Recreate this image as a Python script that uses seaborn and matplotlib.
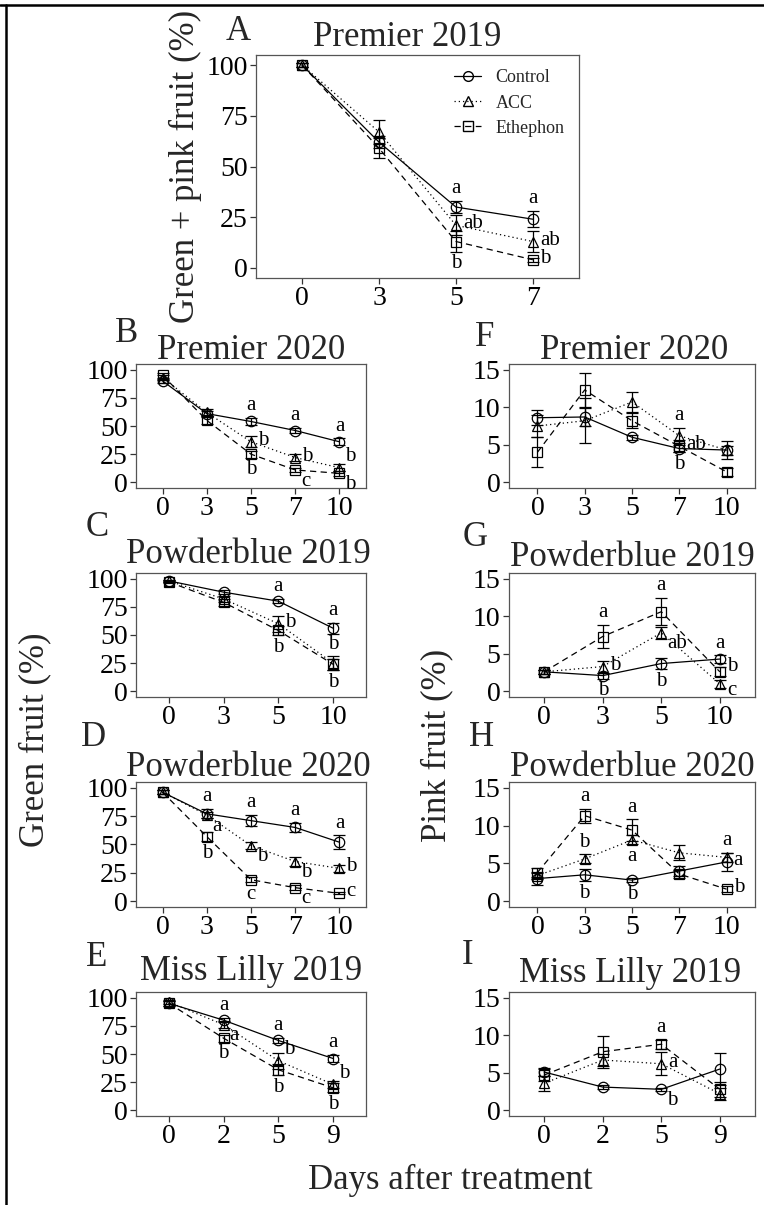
import matplotlib
matplotlib.use("Agg")
import matplotlib.pyplot as plt
from matplotlib.lines import Line2D
import numpy as np
import pandas as pd
import seaborn as sns

sns.set_theme(style="white")
plt.rcParams["font.family"] = ["Liberation Serif", "DejaVu Serif"]

TREATMENTS = ["Control", "ACC", "Ethephon"]

# ---------------- data: means, standard errors and mean-separation letters
# A  Premier 2019 (green + pink fruit, %)
a_days = ["0", "3", "5", "7"]
a_control = [100, 62, 30, 24]
a_control_se = [1, 3, 3, 4]
a_acc = [100, 67, 21, 13]
a_acc_se = [1, 6, 5, 5]
a_eth = [100, 59, 13, 4]
a_eth_se = [1, 5, 5, 1]
a_control_let = ["", "", "a", "a"]
a_acc_let = ["", "", "ab", "ab"]
a_eth_let = ["", "", "b", "b"]

# B  Premier 2020 (green fruit, %)
b_days = ["0", "3", "5", "7", "10"]
b_control = [90, 61, 54, 46, 36]
b_control_se = [2, 2, 3, 2, 3]
b_acc = [93, 62, 36, 22, 13]
b_acc_se = [2, 3, 5, 3, 3]
b_eth = [95, 55, 25, 11, 8]
b_eth_se = [2, 3, 3, 2, 2]
b_control_let = ["", "", "a", "a", "a"]
b_acc_let = ["", "", "b", "b", "b"]
b_eth_let = ["", "", "b", "c", "b"]

# C  Powderblue 2019 (green fruit, %)
c_days = ["0", "3", "5", "10"]
c_control = [98, 88, 80, 56]
c_control_se = [1, 2, 2, 5]
c_acc = [98, 82, 60, 25]
c_acc_se = [1, 3, 7, 6]
c_eth = [97, 79, 54, 24]
c_eth_se = [1, 3, 4, 5]
c_control_let = ["", "", "a", "a"]
c_acc_let = ["", "", "b", "b"]
c_eth_let = ["", "", "b", "b"]

# D  Powderblue 2020 (green fruit, %)
d_days = ["0", "3", "5", "7", "10"]
d_control = [96, 77, 71, 65, 52]
d_control_se = [2, 4, 5, 4, 6]
d_acc = [96, 76, 49, 35, 29]
d_acc_se = [2, 3, 3, 4, 3]
d_eth = [96, 57, 19, 12, 7]
d_eth_se = [2, 4, 2, 2, 1]
d_control_let = ["", "a", "a", "a", "a"]
d_acc_let = ["", "a", "b", "b", "b"]
d_eth_let = ["", "b", "c", "c", "c"]

# E  Miss Lilly 2019 (green fruit, %)
e_days = ["0", "2", "5", "9"]
e_control = [95, 80, 62, 46]
e_control_se = [2, 2, 2, 3]
e_acc = [96, 76, 44, 23]
e_acc_se = [2, 3, 7, 3]
e_eth = [95, 64, 36, 20]
e_eth_se = [2, 3, 5, 4]
e_control_let = ["", "a", "a", "a"]
e_acc_let = ["", "a", "b", "b"]
e_eth_let = ["", "b", "b", "b"]

# F  Premier 2020 (pink fruit, %)
f_days = ["0", "3", "5", "7", "10"]
f_control = [8.6, 8.7, 6.0, 4.5, 4.3]
f_control_se = [1.0, 1.2, 0.3, 0.5, 0.6]
f_acc = [7.5, 8.2, 10.7, 6.2, 4.3]
f_acc_se = [1.5, 3.0, 1.3, 1.0, 1.2]
f_eth = [4.0, 12.3, 8.2, 4.8, 1.4]
f_eth_se = [2.0, 2.3, 1.0, 0.8, 0.5]
f_control_let = ["", "", "", "b", ""]
f_acc_let = ["", "", "", "a", ""]
f_eth_let = ["", "", "", "ab", ""]

# G  Powderblue 2019 (pink fruit, %)
g_days = ["0", "3", "5", "10"]
g_control = [2.6, 2.1, 3.7, 4.3]
g_control_se = [0.3, 0.4, 0.7, 0.5]
g_acc = [2.6, 3.3, 7.8, 1.0]
g_acc_se = [0.3, 0.8, 0.8, 0.5]
g_eth = [2.6, 7.3, 10.6, 2.6]
g_eth_se = [0.3, 1.5, 1.8, 0.6]
g_control_let = ["", "b", "b", "a"]
g_acc_let = ["", "b", "ab", "c"]
g_eth_let = ["", "a", "a", "b"]

# H  Powderblue 2020 (pink fruit, %)
h_days = ["0", "3", "5", "7", "10"]
h_control = [3.0, 3.5, 2.8, 4.0, 5.2]
h_control_se = [0.8, 0.8, 0.3, 0.6, 1.2]
h_acc = [3.4, 5.6, 8.1, 6.4, 5.8]
h_acc_se = [0.5, 0.6, 0.6, 1.0, 0.6]
h_eth = [3.8, 11.3, 9.4, 3.6, 1.6]
h_eth_se = [0.6, 0.9, 1.4, 0.5, 0.4]
h_control_let = ["", "b", "b", "", "a"]
h_acc_let = ["", "b", "a", "", "a"]
h_eth_let = ["", "a", "a", "", "b"]

# I  Miss Lilly 2019 (pink fruit, %)
i_days = ["0", "2", "5", "9"]
i_control = [5.1, 3.1, 2.8, 5.5]
i_control_se = [0.5, 0.3, 0.2, 2.1]
i_acc = [3.6, 6.7, 6.2, 2.2]
i_acc_se = [1.0, 0.8, 1.5, 0.8]
i_eth = [4.7, 7.8, 8.8, 2.8]
i_eth_se = [0.8, 2.1, 0.6, 1.0]
i_control_let = ["", "", "b", ""]
i_acc_let = ["", "", "a", ""]
i_eth_let = ["", "", "a", ""]

# ---------------- where each letter sits relative to its mean / error bar
_ = None
PLACE = {
    "A": {"Control": [_, _, "above", "above"], "ACC": [_, _, "right", "right"],
          "Ethephon": [_, _, "below", "right"]},
    "B": {"Control": [_, _, "above", "above", "above"], "ACC": [_, _, "right", "right", "upright"],
          "Ethephon": [_, _, "below", "lowright", "lowright"]},
    "C": {"Control": [_, _, "above", "above"], "ACC": [_, _, "right", "above"],
          "Ethephon": [_, _, "below", "below"]},
    "D": {"Control": [_, "above", "above", "above", "above"],
          "ACC": [_, "lowright", "lowright", "lowright", "right"],
          "Ethephon": [_, "below", "below", "lowright", "right"]},
    "E": {"Control": [_, "above", "above", "above"], "ACC": [_, "lowright", "upright", "upright"],
          "Ethephon": [_, "below", "below", "below"]},
    "F": {"Control": [_, _, _, "below", _], "ACC": [_, _, _, "above", _],
          "Ethephon": [_, _, _, "right", _]},
    "G": {"Control": [_, "below", "below", "above"], "ACC": [_, "right", "lowright", "rightlo"],
          "Ethephon": [_, "above", "above", "righthi"]},
    "H": {"Control": [_, "below", "below", _, "right"], "ACC": [_, "above", "below", _, "above"],
          "Ethephon": [_, "above", "above", _, "right"]},
    "I": {"Control": [_, _, "lowright", _], "ACC": [_, _, "right", _],
          "Ethephon": [_, _, "above", _]},
}

# (anchor: mean / top of bar / bottom of bar, offset in points, ha, va)
OFFSETS = {
    "above": ("top", (0, 2), "center", "bottom"),
    "below": ("bottom", (0, -2), "center", "top"),
    "right": ("mean", (5, 1), "left", "center"),
    "righthi": ("mean", (5, 4), "left", "center"),
    "rightlo": ("mean", (5, -5), "left", "center"),
    "lowright": ("mean", (4, -8), "left", "center"),
    "upright": ("mean", (4, 8), "left", "center"),
}

MARKERS = {"Control": "o", "ACC": "^", "Ethephon": "s"}
DASHES = {"Control": "", "ACC": (1, 2.4), "Ethephon": (5, 3.5)}

W, H = 764, 1205


def rect(l, r, t, b):
    return [l / W, 1 - b / H, (r - l) / W, (b - t) / H]


fig = plt.figure(figsize=(W / 100, H / 100), dpi=100)
fig.patch.set_facecolor("white")

TICK_FS = 20
TITLE_FS = 25
LET_FS = 15


def draw_panel(ax, key, days, series, yticks, ylim):
    pos = np.arange(len(days))
    frames = []
    for t in TREATMENTS:
        mean, se, lets = series[t]
        frames.append(pd.DataFrame({"pos": pos, "value": mean, "Treatment": t}))
        ax.errorbar(pos, mean, yerr=se, fmt="none", ecolor="black",
                    elinewidth=0.9, capsize=4.6, capthick=0.9, zorder=2)
    df = pd.concat(frames, ignore_index=True)
    sns.lineplot(data=df, x="pos", y="value", style="Treatment",
                 style_order=TREATMENTS, markers=MARKERS, dashes=DASHES,
                 color="black", linewidth=0.9, markersize=7.5,
                 markerfacecolor="none", markeredgecolor="black",
                 markeredgewidth=0.9, legend=False, sort=False, ax=ax, zorder=3)

    for t in TREATMENTS:
        mean, se, lets = series[t]
        for i, lab in enumerate(lets):
            if not lab:
                continue
            anchor, off, ha, va = OFFSETS[PLACE[key][t][i]]
            m, s = mean[i], se[i]
            y = {"top": m + s, "bottom": m - s, "mean": m}[anchor]
            ax.annotate(lab, (i, y), xytext=off, textcoords="offset points",
                        ha=ha, va=va, fontsize=LET_FS, color="black", zorder=4)

    ax.set_xlim(-0.6, len(days) - 1 + 0.6)
    ax.set_ylim(*ylim)
    ax.set_xticks(pos)
    ax.set_xticklabels(days)
    ax.set_yticks(yticks)
    ax.set_yticklabels([str(v) for v in yticks])
    ax.set_xlabel("")
    ax.set_ylabel("")
    ax.tick_params(axis="both", which="both", length=4, width=0.9,
                   color="#333333", labelsize=TICK_FS, labelcolor="black", pad=2,
                   bottom=True, left=True)
    for sp in ax.spines.values():
        sp.set_visible(True)
        sp.set_color("#555555")
        sp.set_linewidth(0.9)
    ax.grid(False)
    ax.set_facecolor("white")


GREEN_TICKS = [0, 25, 50, 75, 100]
PINK_TICKS = [0, 5, 10, 15]
GREEN_LIM = (-5, 105)
PINK_LIM = (-0.75, 15.75)

LEFT, RIGHT = (136, 366), (509, 755)
ROWS = [(364, 488), (573, 697), (782, 907), (992, 1116)]

panels = [
    ("A", "Premier 2019", a_days,
     {"Control": (a_control, a_control_se, a_control_let),
      "ACC": (a_acc, a_acc_se, a_acc_let),
      "Ethephon": (a_eth, a_eth_se, a_eth_let)},
     GREEN_TICKS, GREEN_LIM, (256, 579, 55, 278), (407, 38), (238, 32)),
    ("B", "Premier 2020", b_days,
     {"Control": (b_control, b_control_se, b_control_let),
      "ACC": (b_acc, b_acc_se, b_acc_let),
      "Ethephon": (b_eth, b_eth_se, b_eth_let)},
     GREEN_TICKS, GREEN_LIM, (*LEFT, *ROWS[0]), (251, 350), (127, 333)),
    ("C", "Powderblue 2019", c_days,
     {"Control": (c_control, c_control_se, c_control_let),
      "ACC": (c_acc, c_acc_se, c_acc_let),
      "Ethephon": (c_eth, c_eth_se, c_eth_let)},
     GREEN_TICKS, GREEN_LIM, (*LEFT, *ROWS[1]), (248, 555), (97, 527)),
    ("D", "Powderblue 2020", d_days,
     {"Control": (d_control, d_control_se, d_control_let),
      "ACC": (d_acc, d_acc_se, d_acc_let),
      "Ethephon": (d_eth, d_eth_se, d_eth_let)},
     GREEN_TICKS, GREEN_LIM, (*LEFT, *ROWS[2]), (248, 767), (94, 737)),
    ("E", "Miss Lilly 2019", e_days,
     {"Control": (e_control, e_control_se, e_control_let),
      "ACC": (e_acc, e_acc_se, e_acc_let),
      "Ethephon": (e_eth, e_eth_se, e_eth_let)},
     GREEN_TICKS, GREEN_LIM, (*LEFT, *ROWS[3]), (251, 972), (97, 957)),
    ("F", "Premier 2020", f_days,
     {"Control": (f_control, f_control_se, f_control_let),
      "ACC": (f_acc, f_acc_se, f_acc_let),
      "Ethephon": (f_eth, f_eth_se, f_eth_let)},
     PINK_TICKS, PINK_LIM, (*RIGHT, *ROWS[0]), (634, 350), (485, 338)),
    ("G", "Powderblue 2019", g_days,
     {"Control": (g_control, g_control_se, g_control_let),
      "ACC": (g_acc, g_acc_se, g_acc_let),
      "Ethephon": (g_eth, g_eth_se, g_eth_let)},
     PINK_TICKS, PINK_LIM, (*RIGHT, *ROWS[1]), (632, 557), (475, 538)),
    ("H", "Powderblue 2020", h_days,
     {"Control": (h_control, h_control_se, h_control_let),
      "ACC": (h_acc, h_acc_se, h_acc_let),
      "Ethephon": (h_eth, h_eth_se, h_eth_let)},
     PINK_TICKS, PINK_LIM, (*RIGHT, *ROWS[2]), (632, 767), (482, 737)),
    ("I", "Miss Lilly 2019", i_days,
     {"Control": (i_control, i_control_se, i_control_let),
      "ACC": (i_acc, i_acc_se, i_acc_let),
      "Ethephon": (i_eth, i_eth_se, i_eth_let)},
     PINK_TICKS, PINK_LIM, (*RIGHT, *ROWS[3]), (630, 973), (468, 955)),
]

axes = {}
for key, title, days, series, yt, yl, (l, r, t, b), (tx, ty), (lx, ly) in panels:
    ax = fig.add_axes(rect(l, r, t, b))
    draw_panel(ax, key, days, series, yt, yl)
    axes[key] = ax
    fig.text(tx / W, 1 - ty / H, title, ha="center", va="center", fontsize=TITLE_FS)
    fig.text(lx / W, 1 - ly / H, key, ha="center", va="center", fontsize=TITLE_FS)

# legend inside panel A
handles = [Line2D([0], [0], color="black", linewidth=0.9, marker=MARKERS[t],
                  markersize=7, markerfacecolor="none", markeredgecolor="black",
                  linestyle="-" if t == "Control" else (0, DASHES[t]))
           for t in TREATMENTS]
axes["A"].legend(handles, TREATMENTS, loc="upper right", frameon=False,
                 fontsize=13, handlelength=1.5, handletextpad=0.8,
                 labelspacing=0.45, borderaxespad=0.4)

# axis titles
fig.text(185 / W, 1 - 166 / H, "Green + pink fruit (%)", rotation=90,
         ha="center", va="center", fontsize=TITLE_FS)
fig.text(35 / W, 1 - 740 / H, "Green fruit (%)", rotation=90,
         ha="center", va="center", fontsize=TITLE_FS)
fig.text(437 / W, 1 - 745 / H, "Pink fruit (%)", rotation=90,
         ha="center", va="center", fontsize=TITLE_FS)
fig.text(450 / W, 1 - 1180 / H, "Days after treatment",
         ha="center", va="center", fontsize=TITLE_FS)

# outer frame lines (top and left)
fig.add_artist(Line2D([0, 1], [1 - 4.5 / H, 1 - 4.5 / H], color="black",
                      linewidth=1.8, transform=fig.transFigure))
fig.add_artist(Line2D([5.5 / W, 5.5 / W], [0, 1 - 4.5 / H], color="black",
                      linewidth=1.8, transform=fig.transFigure))

fig.savefig("out.png", dpi=100, facecolor="white")
